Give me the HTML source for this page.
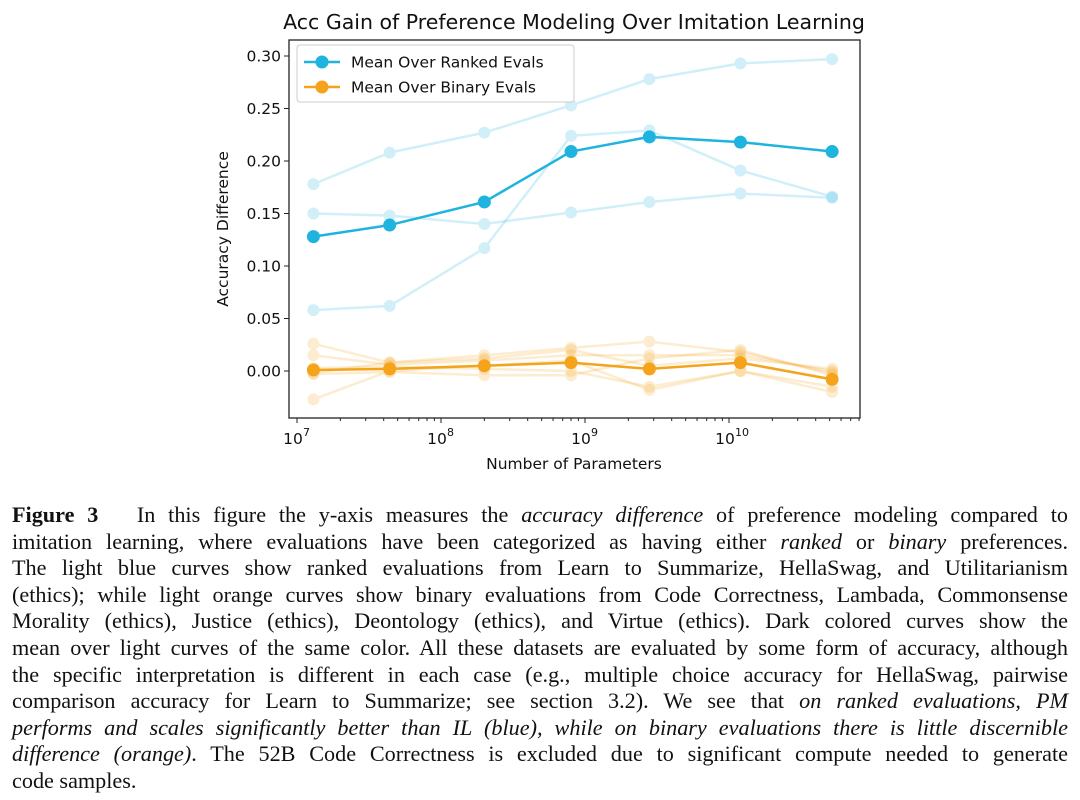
<!DOCTYPE html>
<html><head><meta charset="utf-8"><style>
body{margin:0;width:1080px;height:800px;background:#fff;overflow:hidden;position:relative}
#cap{position:absolute;left:12px;top:502px;width:1056px;font-family:"Liberation Serif",serif;font-size:22.2px;color:#111}
#cap div{height:26.6px;line-height:26.6px;text-align:justify;text-align-last:justify;white-space:nowrap}
#cap div.last{text-align-last:left}
</style></head><body>
<svg id="chart" width="1080" height="500" style="position:absolute;left:0;top:0" font-family="DejaVu Sans, sans-serif"></svg>
<div id="cap">
<div><b>Figure 3</b>&nbsp;&nbsp; In this figure the y-axis measures the <i>accuracy difference</i> of preference modeling compared to</div>
<div>imitation learning, where evaluations have been categorized as having either <i>ranked</i> or <i>binary</i> preferences.</div>
<div>The light blue curves show ranked evaluations from Learn to Summarize, HellaSwag, and Utilitarianism</div>
<div>(ethics); while light orange curves show binary evaluations from Code Correctness, Lambada, Commonsense</div>
<div>Morality (ethics), Justice (ethics), Deontology (ethics), and Virtue (ethics). Dark colored curves show the</div>
<div>mean over light curves of the same color. All these datasets are evaluated by some form of accuracy, although</div>
<div>the specific interpretation is different in each case (e.g., multiple choice accuracy for HellaSwag, pairwise</div>
<div>comparison accuracy for Learn to Summarize; see section 3.2). We see that <i>on ranked evaluations, PM</i></div>
<div><i>performs and scales significantly better than IL (blue), while on binary evaluations there is little discernible</i></div>
<div><i>difference (orange)</i>. The 52B Code Correctness is excluded due to significant compute needed to generate</div>
<div class="last">code samples.</div>
</div>
<script>
const params=[1.3e7,4.4e7,2e8,8e8,2.8e9,1.2e10,5.2e10];
const rankedA=[.178,.208,.227,.253,.278,.293,.297];
const rankedB=[.150,.148,.140,.151,.161,.169,.165];
const rankedC=[.058,.062,.117,.224,.229,.191,.166];
const rankedMean=[.128,.139,.161,.209,.223,.218,.209];
const bin1=[.026,.008,.015,.022,.028,.018,-.002];
const bin2=[.015,.006,.010,.015,.015,.015,.000];
const bin3=[-.027,.000,.005,.010,-.018,.000,-.020];
const bin4=[-.003,-.001,-.004,-.004,.012,.020,-.004];
const bin5=[.003,.004,.002,.000,-.015,.000,-.015];
const bin6=[-.002,.008,.012,.020,.005,.012,.002];
const binaryMean=[.001,.002,.005,.008,.002,.008,-.008];
const yTicks=[0,.05,.10,.15,.20,.25,.30];
const yTickLabels=["0.00","0.05","0.10","0.15","0.20","0.25","0.30"];
const xDecades=[7,8,9,10];

const svg=document.getElementById('chart');
const NS='http://www.w3.org/2000/svg';
const L=289,R=860,T=40,B=418;
const xs=v=>297+(Math.log10(v)-7)*144;
const ys=v=>371-v*1050;
function mk(tag,attrs,parent){const e=document.createElementNS(NS,tag);for(const k in attrs)e.setAttribute(k,attrs[k]);(parent||svg).appendChild(e);return e;}

let t=mk('text',{x:574,y:29,'text-anchor':'middle','font-size':20.5,fill:'#111'});
t.textContent='Acc Gain of Preference Modeling Over Imitation Learning';



function series(vals,color,op,name,w,r){
  const g=mk('g',{opacity:op});
  
  
  mk('polyline',{points:vals.map((v,i)=>xs(params[i])+','+ys(v)).join(' '),fill:'none',stroke:color,'stroke-width':w},g);
  vals.forEach((v,i)=>{const c=mk('circle',{cx:xs(params[i]),cy:ys(v),r:r,fill:color},g);
    
    });
}
const LB='#1fb3e0',OR='#f5a31a';
[bin1,bin2,bin3,bin4,bin5,bin6].forEach((s,i)=>series(s,OR,0.2,'binary-eval-'+(i+1),2.5,6));
[rankedA,rankedB,rankedC].forEach((s,i)=>series(s,LB,0.2,'ranked-eval-'+(i+1),2.5,6));
series(rankedMean,LB,1,'mean-ranked',2.5,6.5);
series(binaryMean,OR,1,'mean-binary',2.5,6.5);

let fr=mk('rect',{x:L,y:T,width:R-L,height:B-T,fill:'none',stroke:'#222','stroke-width':1.3});



yTicks.forEach((v,i)=>{mk('line',{x1:L-5,x2:L,y1:ys(v),y2:ys(v),stroke:'#222'});
  const tx=mk('text',{x:L-8,y:ys(v)+5.5,'text-anchor':'end','font-size':15.5,fill:'#111'});tx.textContent=yTickLabels[i];
  
  });
xDecades.forEach(d=>{const x=xs(Math.pow(10,d));mk('line',{x1:x,x2:x,y1:B,y2:B+5,stroke:'#222'});
  const tx=mk('text',{x:x-4,y:B+26,'text-anchor':'middle','font-size':15.5,fill:'#111'});tx.textContent='10';
  
  
  const sp=mk('text',{x:x+6,y:B+18,'font-size':11,fill:'#111'});sp.textContent=String(d);});
for(let d=7;d<=10;d++)for(let m=2;m<=9;m++){const x=xs(m*Math.pow(10,d));if(x<R)mk('line',{x1:x,x2:x,y1:B,y2:B+3,stroke:'#222'});}

t=mk('text',{x:574,y:469,'text-anchor':'middle','font-size':15.5,fill:'#111'});t.textContent='Number of Parameters';


t=mk('text',{x:0,y:0,'text-anchor':'middle','font-size':15.5,fill:'#111',transform:'translate(228,229) rotate(-90)'});t.textContent='Accuracy Difference';



const lg=mk('g',{});


mk('rect',{x:297,y:45,width:277,height:57,rx:3,fill:'#fff',stroke:'#ccc'},lg);
[[LB,'Mean Over Ranked Evals',62],[OR,'Mean Over Binary Evals',87]].forEach(([c,s,y])=>{
  mk('line',{x1:304,x2:340,y1:y,y2:y,stroke:c,'stroke-width':2.5},lg);
  mk('circle',{cx:322,cy:y,r:6.5,fill:c},lg);
  const tx=mk('text',{x:351,y:y+5.5,'font-size':15.5,fill:'#111'},lg);tx.textContent=s;
  
  });
</script>
</body></html>
